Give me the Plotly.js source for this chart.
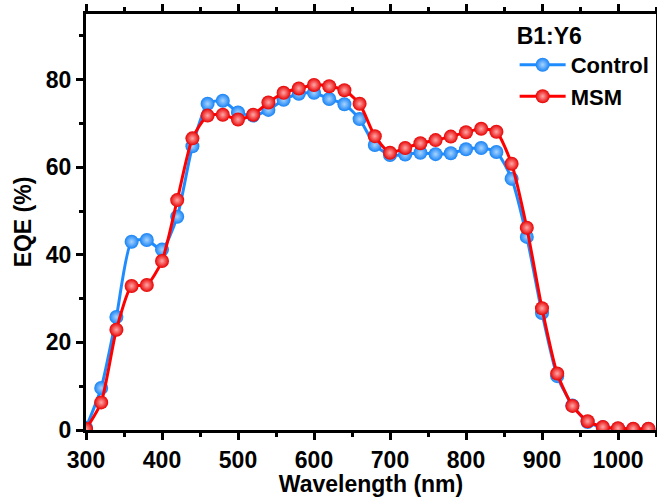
<!DOCTYPE html>
<html><head><meta charset="utf-8">
<script src="https://cdn.plot.ly/plotly-3.0.1.min.js"></script>
<style>html,body{margin:0;padding:0;background:#fff}#chart{width:657px;height:497px}</style>
</head><body><div id="chart"></div>
<script>
const wavelength = [300,320,340,360,380,400,420,440,460,480,500,520,540,560,580,600,620,640,660,680,700,720,740,760,780,800,820,840,860,880,900,920,940,960,980,1000,1020,1040];
const controlEQE = [0.5,9.6,25.8,43.0,43.4,41.2,48.7,64.8,74.5,75.2,72.5,71.8,73.1,75.4,76.8,77.0,75.6,74.4,71.0,65.1,62.8,62.9,63.3,63.0,63.2,64.1,64.4,63.5,57.4,44.1,26.7,12.3,5.6,1.8,0.6,0.3,0.2,0.2];
const msmEQE = [0.2,6.3,22.9,32.9,33.1,38.6,52.5,66.6,71.8,72.0,70.9,72.0,74.8,77.0,78.0,78.8,78.5,77.6,74.5,67.1,63.3,64.4,65.5,66.2,67.0,68.0,68.8,68.1,60.8,46.2,27.8,12.9,5.5,2.0,0.7,0.4,0.3,0.3];
const seriesNames = ['Control','MSM'];
const legendTitle = 'B1:Y6';
const xRange = [300,1050];
const yRange = [0,95];

const FONT = 'Liberation Sans, Arial, sans-serif';
const traces = [
  {x: wavelength, y: controlEQE, name: seriesNames[0], type:'scatter', mode:'lines+markers',
   line:{color:'#1E8CFF', width:3, shape:'spline', smoothing:0.6},
   marker:{size:14, color:'#1682F5', line:{width:0}, gradient:{type:'radial', color:'#A8D4FF'}}},
  {x: wavelength, y: msmEQE, name: seriesNames[1], type:'scatter', mode:'lines+markers',
   line:{color:'#FF0000', width:3, shape:'spline', smoothing:0.6},
   marker:{size:14, color:'#E80000', line:{width:0}, gradient:{type:'radial', color:'#FFA8A8'}}}
];
const axisCommon = {
  showline:true, linecolor:'#000', linewidth:3, mirror:'ticks', ticks:'outside', ticklen:7, tickwidth:3, tickcolor:'#000',
  showgrid:false, zeroline:false, automargin:false,
  tickfont:{family:FONT, size:23, color:'#000', weight:'bold'}
};
const titleFont = {family:FONT, size:23, color:'#000', weight:'bold'};
const layout = {
  width:657, height:497,
  margin:{l:86, r:1, t:14, b:67},
  paper_bgcolor:'#fff', plot_bgcolor:'#fff',
  showlegend:true,
  xaxis: Object.assign({}, axisCommon, {range:xRange, dtick:100, tick0:300,
    minor:{ticks:'outside', ticklen:4, tickwidth:3, tickcolor:'#000', dtick:50},
    title:{text:'Wavelength (nm)', standoff:3, font:titleFont}}),
  yaxis: Object.assign({}, axisCommon, {range:yRange, dtick:20, tick0:0,
    minor:{ticks:'outside', ticklen:4, tickwidth:3, tickcolor:'#000', dtick:10},
    title:{text:'EQE (%)', standoff:8, font:titleFont}}),
  legend:{x:0.752, y:1.0, xanchor:'left', yanchor:'top', bgcolor:'rgba(0,0,0,0)',
    itemwidth:46, tracegroupgap:0,
    title:{text:legendTitle, font:titleFont},
    font:{family:FONT, size:22, color:'#000', weight:'bold'}}
};
Plotly.newPlot('chart', traces, layout, {displayModeBar:false, staticPlot:true});
</script>
</body></html>
